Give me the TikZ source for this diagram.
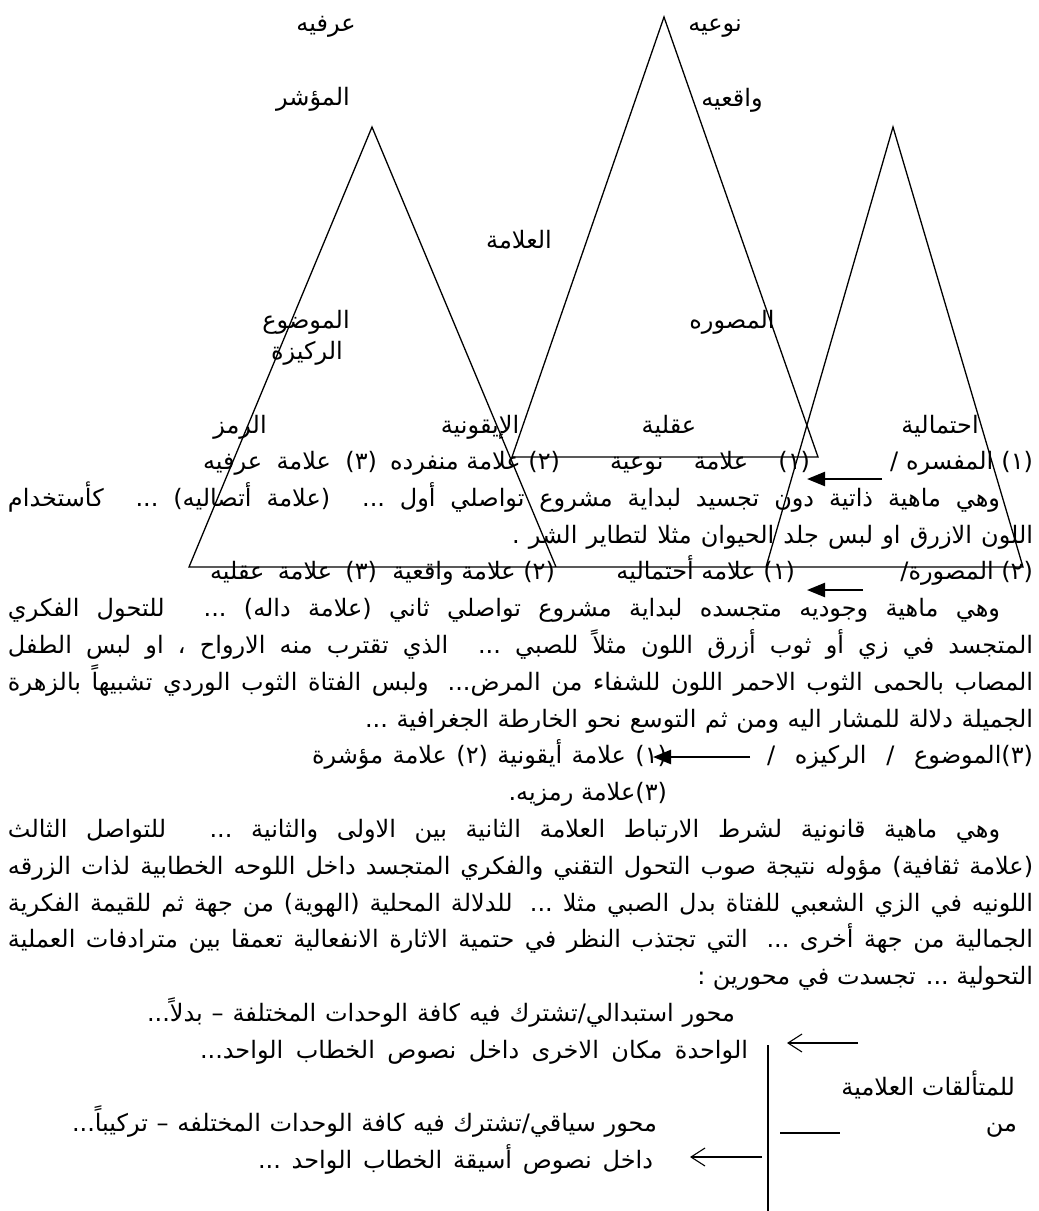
\documentclass[tikz,border=0pt]{standalone}
\usepackage{fontspec}
\usepackage{graphicx}
\usetikzlibrary{arrows.meta}
\TeXXeTstate=1
\hbadness=10000 \hfuzz=50pt
\newfontfamily\arabicfont[Script=Arabic]{DejaVu Sans}
\newcommand\arfnt{\arabicfont\fontsize{24}{28}\selectfont}
\newcommand\RL[1]{\beginR #1\endR}
\newcommand\JL[2]{\setbox0=\hbox{\beginR #2\endR}%
  \ifdim\wd0>#1pt \box0 \else\hbox to #1pt{\beginR #2\endR}\fi}
\begin{document}
\begin{tikzpicture}[x=1pt,y=-1pt,
  txt/.style={inner sep=0pt,outer sep=0pt,font=\arfnt},
  tri/.style={line width=1.3pt,line join=miter},
  fat/.style={line width=2.4pt,-{Triangle[length=18pt,width=14pt]}},
  slim/.style={line width=1.1pt,-{Straight Barb[length=14pt,width=18pt]}},
  rule/.style={line width=1.1pt}]
\useasboundingbox[fill=white] (0,0) rectangle (1039,1211);

% triangles
\coordinate (Lb1) at (189,567); \coordinate (Lt) at (372,127); \coordinate (Lb2) at (556,567);
\coordinate (Mb1) at (512,457); \coordinate (Mt) at (664,17); \coordinate (Mb2) at (818,457);
\coordinate (Rb1) at (766,567); \coordinate (Rt) at (893,127); \coordinate (Rb2) at (1023,567);
\draw[tri] (Lb2) -- (Lt) -- (Lb1) -- (Rb2) -- (Rt) -- (Rb1);
\draw[tri] (Mb1) -- (Mt) -- (Mb2) -- cycle;

% labels
\node[txt,anchor=base] (l1) at (326,31) {\RL{عرفيه}};
\node[txt,anchor=base] (l2) at (715,31) {\RL{نوعيه}};
\node[txt,anchor=base] (l3) at (313,105) {\RL{المؤشر}};
\node[txt,anchor=base] (l4) at (732,106) {\RL{واقعيه}};
\node[txt,anchor=base] (l5) at (519,248) {\RL{العلامة}};
\node[txt,anchor=base] (l6) at (306,328) {\RL{الموضوع}};
\node[txt,anchor=base] (l7) at (732,328) {\RL{المصوره}};
\node[txt,anchor=base] (l8) at (307,359) {\RL{الركيزة}};
\node[txt,anchor=base] (l9) at (240,433) {\RL{الرمز}};
\node[txt,anchor=base] (l10) at (480,433) {\RL{الإيقونية}};
\node[txt,anchor=base] (l11) at (669,433) {\RL{عقلية}};
\node[txt,anchor=base] (l12) at (940,433) {\RL{احتمالية}};

% row 0
\node[txt,anchor=base east] (r0a) at (1033,469) {\JL{143}{(١) المفسره /}};
\node[txt,anchor=base east] (r0b) at (810,469) {\JL{200}{(١) علامة نوعية}};
\node[txt,anchor=base east] (r0c) at (560,469) {\JL{165}{(٢) علامة منفرده}};
\node[txt,anchor=base east] (r0d) at (377,469) {\JL{174}{(٣) علامة عرفيه}};
\coordinate (a0s) at (882,479); \coordinate (a0e) at (807,479);
\draw[fat] (a0s) -- (a0e);
% row 1, 2
\node[txt,anchor=base east] (r1) at (1000,506) {\JL{992}{وهي ماهية ذاتية دون تجسيد لبداية مشروع تواصلي أول ... (علامة أتصاليه) ... كأستخدام}};
\node[txt,anchor=base east] (r2) at (1033,543) {\JL{521}{اللون الازرق او لبس جلد الحيوان مثلا لتطاير الشر .}};
% row 3
\node[txt,anchor=base east] (r3a) at (1033,579) {\JL{126}{(٢) المصورة/}};
\node[txt,anchor=base east] (r3b) at (795,579) {\JL{175}{(١) علامه أحتماليه}};
\node[txt,anchor=base east] (r3c) at (555,579) {\JL{158}{(٢) علامة واقعية}};
\node[txt,anchor=base east] (r3d) at (377,579) {\JL{167}{(٣) علامة عقليه}};
\coordinate (a3s) at (863,590); \coordinate (a3e) at (807,590);
\draw[fat] (a3s) -- (a3e);
% rows 4-7
\node[txt,anchor=base east] (r4) at (1000,616) {\JL{992}{وهي ماهية وجوديه متجسده لبداية مشروع تواصلي ثاني (علامة داله) ... للتحول الفكري}};
\node[txt,anchor=base east] (r5) at (1033,653) {\JL{1025}{المتجسد في زي أو ثوب أزرق اللون مثلاً للصبي ... الذي تقترب منه الارواح ، او لبس الطفل}};
\node[txt,anchor=base east] (r6) at (1033,690) {\JL{1025}{المصاب بالحمى الثوب الاحمر اللون للشفاء من المرض... ولبس الفتاة الثوب الوردي تشبيهاً بالزهرة}};
\node[txt,anchor=base east] (r7) at (1033,727) {\JL{668}{الجميلة دلالة للمشار اليه ومن ثم التوسع نحو الخارطة الجغرافية ...}};
% row 8, 9
\node[txt,anchor=base east] (r8a) at (1033,763) {\JL{266}{(٣)الموضوع / الركيزه /}};
\node[txt,anchor=base east] (r8b) at (667,763) {\JL{355}{(١) علامة أيقونية (٢) علامة مؤشرة}};
\coordinate (a8s) at (750,757); \coordinate (a8e) at (653,757);
\draw[fat] (a8s) -- (a8e);
\node[txt,anchor=base east] (r9) at (667,800) {\RL{(٣)علامة رمزيه.}};
% rows 10-14
\node[txt,anchor=base east] (r10) at (1000,837) {\JL{992}{وهي ماهية قانونية لشرط الارتباط العلامة الثانية بين الاولى والثانية ... للتواصل الثالث}};
\node[txt,anchor=base east] (r11) at (1033,874) {\JL{1025}{(علامة ثقافية) مؤوله نتيجة صوب التحول التقني والفكري المتجسد داخل اللوحه الخطابية لذات الزرقه}};
\node[txt,anchor=base east] (r12) at (1033,911) {\JL{1025}{اللونيه في الزي الشعبي للفتاة بدل الصبي مثلا ... للدلالة المحلية (الهوية) من جهة ثم للقيمة الفكرية}};
\node[txt,anchor=base east] (r13) at (1033,947) {\JL{1025}{الجمالية من جهة أخرى ... التي تجتذب النظر في حتمية الاثارة الانفعالية تعمقا بين مترادفات العملية}};
\node[txt,anchor=base east] (r14) at (1033,984) {\RL{التحولية ... تجسدت في محورين :}};
% bottom part
\node[txt,anchor=base east] (r15) at (735,1021) {\JL{588}{محور استبدالي/تشترك فيه كافة الوحدات المختلفة – بدلاً...}};
\node[txt,anchor=base east] (r16) at (748,1058) {\JL{548}{الواحدة مكان الاخرى داخل نصوص الخطاب الواحد...}};
\node[txt,anchor=base east] (r17) at (1015,1095) {\RL{للمتألقات العلامية}};
\node[txt,anchor=base east] (r18a) at (1017,1131) {\RL{من}};
\node[txt,anchor=base east] (r18b) at (657,1131) {\JL{585}{محور سياقي/تشترك فيه كافة الوحدات المختلفه – تركيباً...}};
\node[txt,anchor=base east] (r19) at (653,1168) {\JL{395}{داخل نصوص أسيقة الخطاب الواحد ...}};
\coordinate (b1s) at (858,1043); \coordinate (b1e) at (787,1043);
\draw[slim] (b1s) -- (b1e);
\coordinate (vt) at (768,1045); \coordinate (vb) at (768,1211);
\draw[rule] (vt) -- (vb);
\coordinate (b2s) at (762,1157); \coordinate (b2e) at (690,1157);
\draw[slim] (b2s) -- (b2e);
\coordinate (hs) at (780,1133); \coordinate (he) at (840,1133);
\draw[rule] (hs) -- (he);
\end{tikzpicture}
\end{document}
